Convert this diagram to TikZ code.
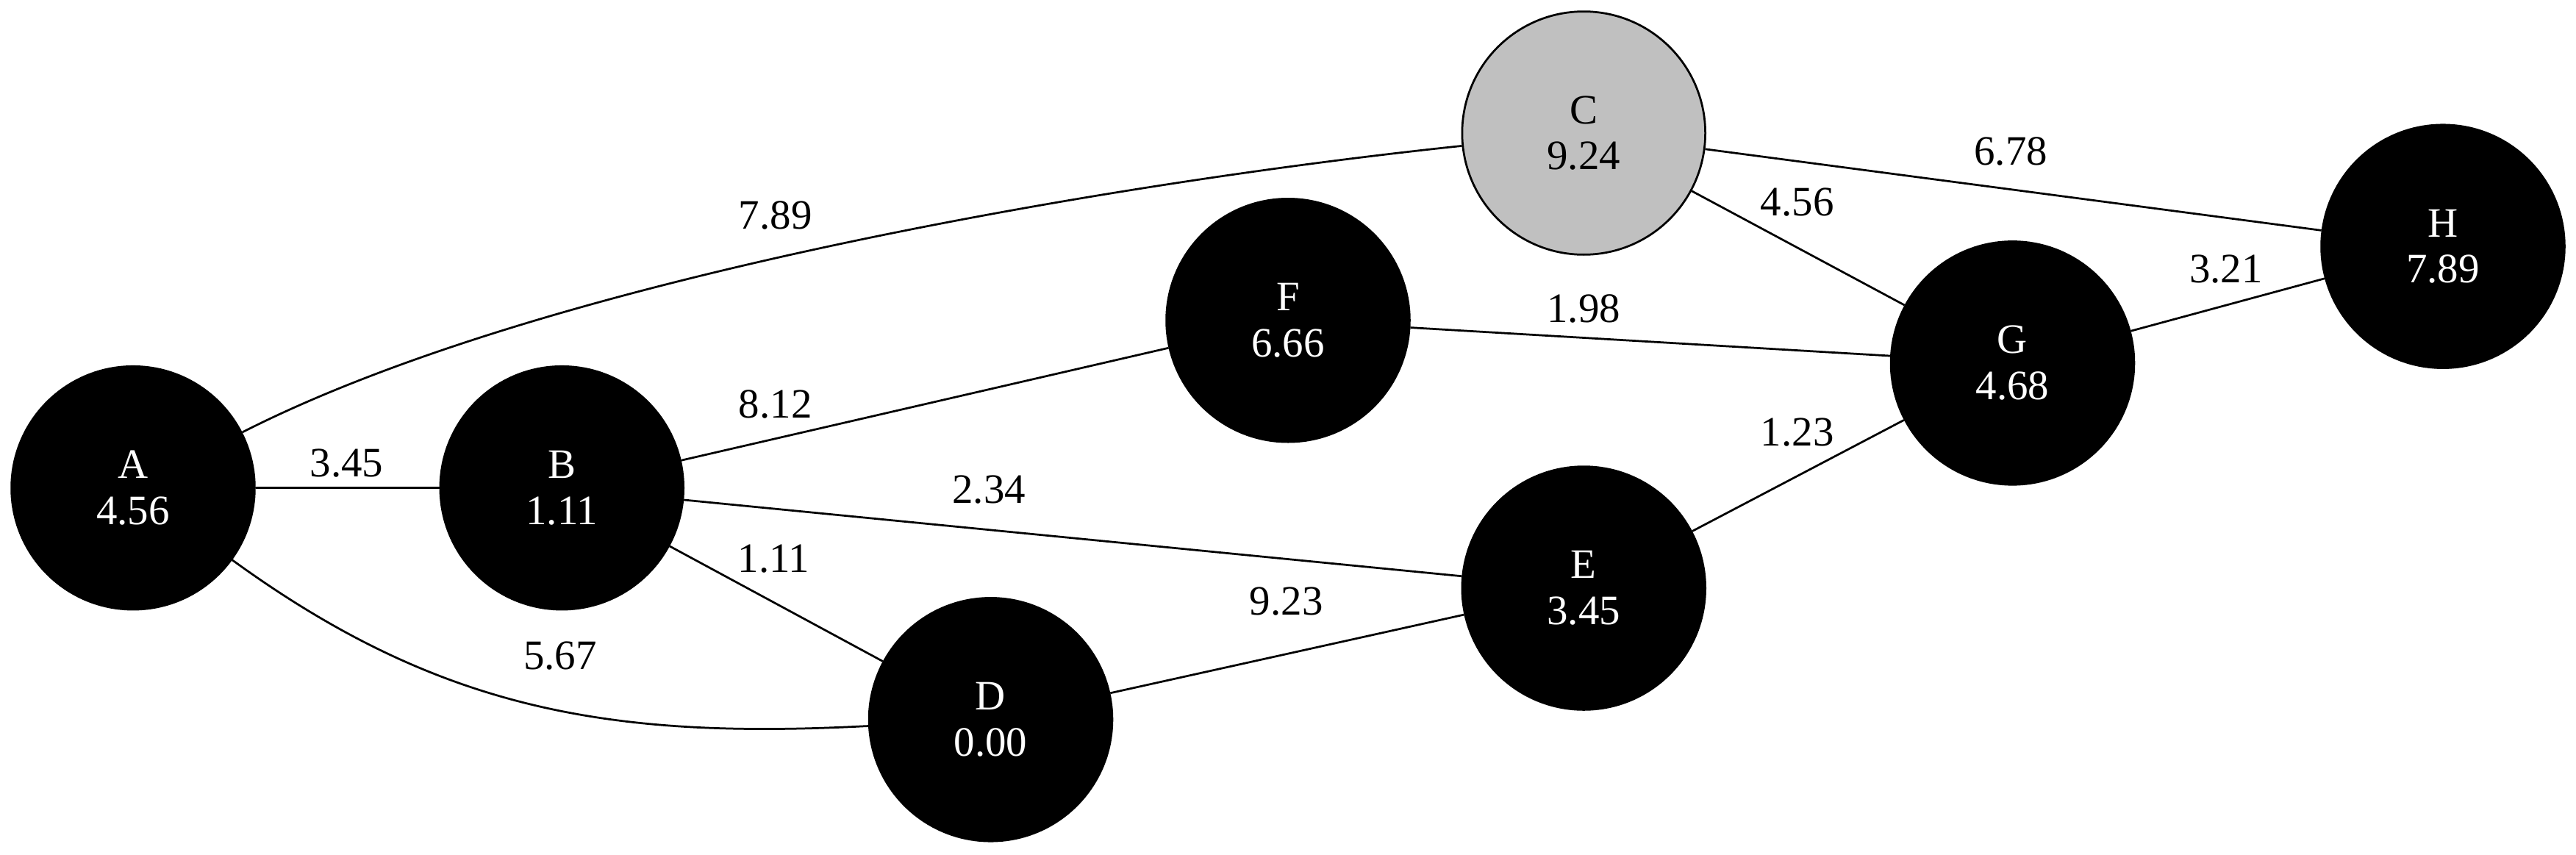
\documentclass[tikz,border=0pt]{standalone}
\usepackage{fontspec}
\setmainfont{Liberation Serif}
\usepackage{tikz}
\definecolor{nodegray}{RGB}{192,192,192}

\begin{document}
\begin{tikzpicture}[x=0.2mm, y=0.2mm,
  vtx/.style={circle, fill=black, draw=black, line width=0.7pt, minimum size=29.6mm, inner sep=0pt, align=center, text=white, font=\fontsize{14.5}{16}\selectfont},
  lbl/.style={inner sep=0pt, font=\fontsize{14.5}{16}\selectfont},
  edge/.style={line width=0.7pt}]
\useasboundingbox (0,0) rectangle (1568,520);
\node[vtx] (A) at (81,223) {A\\4.56};
\node[vtx] (B) at (342,223) {B\\1.11};
\node[vtx, fill=nodegray, text=black] (C) at (964,439) {C\\9.24};
\node[vtx] (D) at (603,82) {D\\0.00};
\node[vtx] (E) at (964,162) {E\\3.45};
\node[vtx] (F) at (784,325) {F\\6.66};
\node[vtx] (G) at (1225,299) {G\\4.68};
\node[vtx] (H) at (1487,370) {H\\7.89};
% edges
\draw[edge] (A) -- (B);
\draw[edge] (A) to[out=27, in=186, looseness=0.7] (C);
\draw[edge] (A) to[out=-36, in=183] (D);
\draw[edge] (B) -- (F);
\draw[edge] (B) -- (E);
\draw[edge] (B) -- (D);
\draw[edge] (D) -- (E);
\draw[edge] (F) -- (G);
\draw[edge] (C) -- (G);
\draw[edge] (C) -- (H);
\draw[edge] (E) -- (G);
\draw[edge] (G) -- (H);
% weights
\node[lbl] (wAB) at (211,238) {3.45};
\node[lbl] (wAC) at (472,389) {7.89};
\node[lbl] (wAD) at (341,121) {5.67};
\node[lbl] (wBF) at (472,274) {8.12};
\node[lbl] (wBE) at (602,222) {2.34};
\node[lbl] (wBD) at (471,180) {1.11};
\node[lbl] (wDE) at (783,154) {9.23};
\node[lbl] (wFG) at (964,332) {1.98};
\node[lbl] (wCH) at (1224,428) {6.78};
\node[lbl] (wCG) at (1094,397) {4.56};
\node[lbl] (wGH) at (1355,356) {3.21};
\node[lbl] (wEG) at (1094,257) {1.23};
\end{tikzpicture}
\end{document}
